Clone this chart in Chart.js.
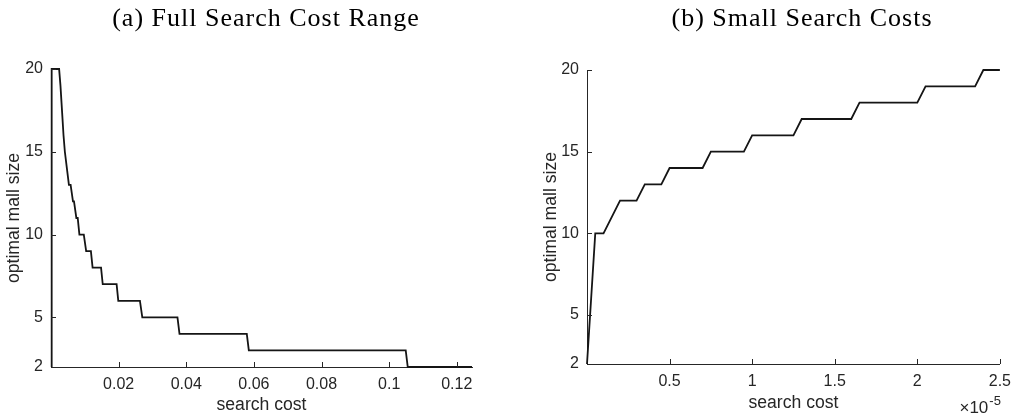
<!DOCTYPE html>
<html>
<head>
<meta charset="utf-8">
<title>optimal mall size vs search cost</title>
<script src="https://cdn.jsdelivr.net/npm/chart.js@4.4.1/dist/chart.umd.min.js"></script>
<style>
  html, body { margin: 0; padding: 0; background: #fff; }
  #wrap { position: relative; width: 1019px; height: 419px; overflow: hidden; }
  #wrap canvas { position: absolute; top: 0; }
  #chart-a { left: 0; }
  #chart-b { left: 520px; }
</style>
</head>
<body>
<div id="wrap">
  <canvas id="chart-a" width="520" height="419"></canvas>
  <canvas id="chart-b" width="499" height="419"></canvas>
</div>
<script>
'use strict';

// (a) rango completo de coste de búsqueda
const costFull = [0, 0.0002, 0.0024, 0.0028, 0.0031, 0.0034, 0.0037, 0.0041, 0.0047, 0.0053,
  0.0058, 0.0065, 0.0068, 0.0075, 0.0079, 0.0084, 0.0097, 0.0104, 0.0118, 0.0123,
  0.0148, 0.0153, 0.0194, 0.0199, 0.0263, 0.0270, 0.0374, 0.0380, 0.0579, 0.0585,
  0.1049, 0.1055, 0.1245];
const sizeFull = [2, 20, 20, 19, 18, 17, 16, 15, 14, 13,
  13, 12, 12, 11, 11, 10, 10, 9, 9, 8,
  8, 7, 7, 6, 6, 5, 5, 4, 4, 3,
  3, 2, 2];

// (b) costes pequeños, en unidades de 1e-5
const costSmall = [0, 0.05, 0.10, 0.20, 0.30, 0.35, 0.45, 0.50, 0.70, 0.75, 0.95,
  1.00, 1.25, 1.30, 1.60, 1.65, 2.00, 2.05, 2.35, 2.40, 2.50];
const sizeSmall = [2, 10, 10, 12, 12, 13, 13, 14, 14, 15, 15,
  16, 16, 17, 17, 18, 18, 19, 19, 20, 20];

const ticksFullX = [0.02, 0.04, 0.06, 0.08, 0.1, 0.12];
const ticksSmallX = [0.5, 1, 1.5, 2, 2.5];
const ticksSize = [2, 5, 10, 15, 20];

const titleA = '(a) Full Search Cost Range';
const titleB = '(b) Small Search Costs';
const xLabel = 'search cost';
const yLabel = 'optimal mall size';
const smallExponent = '-5';

const AXIS_COLOR = '#262626';
const LINE_COLOR = '#151515';
const TICK_LEN = 5;

Chart.defaults.font.family = '"Liberation Sans", Arial, sans-serif';
Chart.defaults.color = AXIS_COLOR;

// marcas de tick hacia dentro (estilo MATLAB) + título del panel + exponente
const panelDecor = {
  id: 'panelDecor',
  afterDraw(chart, args, opts) {
    const { ctx, chartArea, scales } = chart;
    ctx.save();
    ctx.strokeStyle = AXIS_COLOR;
    ctx.lineWidth = 1;
    ctx.beginPath();
    scales.x.ticks.forEach((t) => {
      const px = Math.round(scales.x.getPixelForValue(t.value)) + 0.5;
      ctx.moveTo(px, chartArea.bottom);
      ctx.lineTo(px, chartArea.bottom - TICK_LEN);
    });
    scales.y.ticks.forEach((t) => {
      const py = Math.round(scales.y.getPixelForValue(t.value)) + 0.5;
      ctx.moveTo(chartArea.left, py);
      ctx.lineTo(chartArea.left + TICK_LEN, py);
    });
    ctx.stroke();

    ctx.fillStyle = '#000';
    ctx.font = '26px "Liberation Serif", "Times New Roman", serif';
    ctx.textAlign = 'center';
    ctx.textBaseline = 'alphabetic';
    if ('letterSpacing' in ctx) ctx.letterSpacing = '1px';
    ctx.fillText(opts.title, opts.titleX, 26);
    if ('letterSpacing' in ctx) ctx.letterSpacing = '0px';

    if (opts.exponent) {
      ctx.fillStyle = AXIS_COLOR;
      ctx.textAlign = 'right';
      ctx.font = '13px "Liberation Sans", Arial, sans-serif';
      ctx.fillText(opts.exponent, chartArea.right + 1, 405);
      const supW = ctx.measureText(opts.exponent).width;
      ctx.font = '17px "Liberation Sans", Arial, sans-serif';
      ctx.fillText('\u00d710', chartArea.right - supW, 413);
    }
    ctx.restore();
  },
};

function buildChart(canvasId, xs, ys, cfg) {
  const points = xs.map((x, i) => ({ x, y: ys[i] }));
  return new Chart(document.getElementById(canvasId), {
    type: 'line',
    data: {
      datasets: [{
        data: points,
        borderColor: LINE_COLOR,
        borderWidth: 1.8,
        pointRadius: 0,
        tension: 0,
        fill: false,
        clip: false,
      }],
    },
    plugins: [panelDecor],
    options: {
      responsive: false,
      animation: false,
      events: [],
      layout: { padding: { top: cfg.top, right: cfg.right, bottom: 0, left: 0 } },
      plugins: {
        legend: { display: false },
        tooltip: { enabled: false },
        panelDecor: { title: cfg.title, titleX: cfg.titleX, exponent: cfg.exponent },
      },
      scales: {
        x: {
          type: 'linear',
          min: cfg.xMin,
          max: cfg.xMax,
          afterFit: (scale) => { scale.height = cfg.xHeight; },
          afterBuildTicks: (scale) => { scale.ticks = cfg.xTicks.map((v) => ({ value: v })); },
          grid: { display: true, drawOnChartArea: false, drawTicks: false },
          border: { display: true, color: AXIS_COLOR, width: 1 },
          ticks: {
            autoSkip: false,
            maxRotation: 0,
            padding: 8,
            font: { size: 16 },
            callback: (v) => String(v),
          },
          title: {
            display: true,
            text: xLabel,
            font: { size: 17.6 },
            padding: { top: 0, bottom: cfg.xTitlePad },
          },
        },
        y: {
          type: 'linear',
          min: 2,
          max: 20,
          afterFit: (scale) => { scale.width = cfg.yWidth; },
          afterBuildTicks: (scale) => { scale.ticks = ticksSize.map((v) => ({ value: v })); },
          grid: { display: true, drawOnChartArea: false, drawTicks: false },
          border: { display: true, color: AXIS_COLOR, width: 1 },
          ticks: {
            autoSkip: false,
            padding: 8,
            font: { size: 16 },
            callback: (v) => String(v),
          },
          title: {
            display: true,
            text: yLabel,
            font: { size: 17.6 },
            padding: { top: cfg.yTitlePad, bottom: 0 },
          },
        },
      },
    },
  });
}

buildChart('chart-a', costFull, sizeFull, {
  title: titleA, titleX: 266,
  xMin: 0, xMax: 0.1245, xTicks: ticksFullX,
  top: 69, right: 48, xHeight: 52, yWidth: 51,
  xTitlePad: 3, yTitlePad: 4,
});

buildChart('chart-b', costSmall, sizeSmall, {
  title: titleB, titleX: 282, exponent: smallExponent,
  xMin: 0, xMax: 2.5, xTicks: ticksSmallX,
  top: 70, right: 19, xHeight: 55, yWidth: 67,
  xTitlePad: 5, yTitlePad: 21,
});
</script>
</body>
</html>
